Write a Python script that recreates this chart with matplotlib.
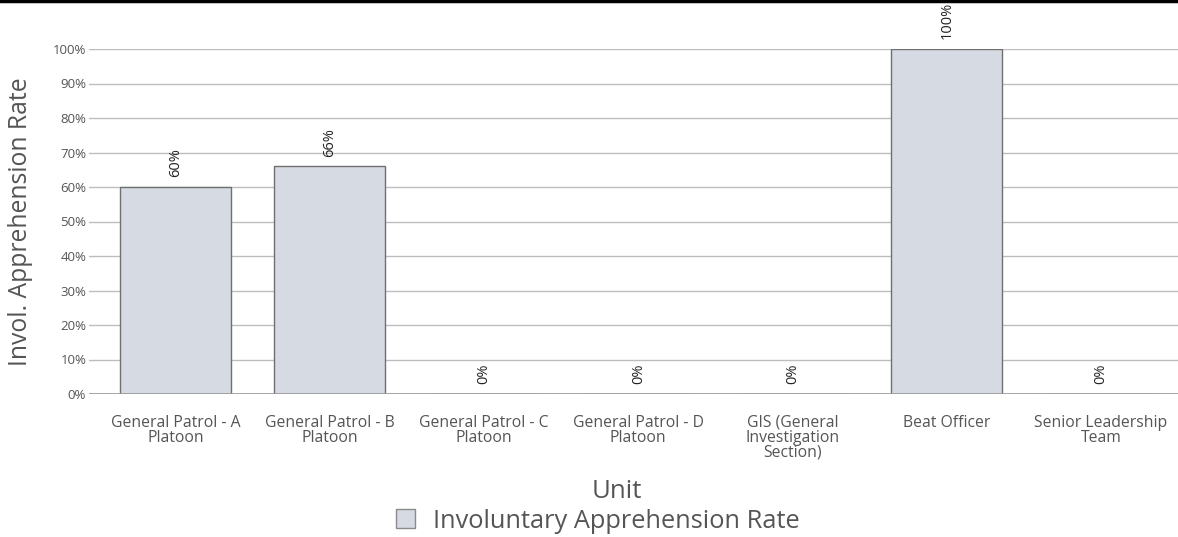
import matplotlib.pyplot as plt
from matplotlib.lines import Line2D
from matplotlib.patches import Patch

plt.rcParams['font.family'] = ['Open Sans', 'DejaVu Sans']

units = ['General Patrol - A\nPlatoon', 'General Patrol - B\nPlatoon',
         'General Patrol - C\nPlatoon', 'General Patrol - D\nPlatoon',
         'GIS (General\nInvestigation\nSection)', 'Beat Officer',
         'Senior Leadership\nTeam']
rates = [60, 66, 0, 0, 0, 100, 0]

bar_color = '#d5dae3'
edge_color = '#6f6f6f'
text_gray = '#555555'

fig = plt.figure(figsize=(11.78, 5.37), dpi=100)
ax = fig.add_axes([89 / 1178, 1 - 394 / 537, 1 - 89 / 1178, (394 - 49) / 537])

x = list(range(len(units)))
ax.bar(x, rates, width=0.72, color=bar_color, edgecolor=edge_color, linewidth=1, zorder=2)

# value labels above each bar
for xi, r in zip(x, rates):
    ax.annotate(f'{r}%', (xi, r), xytext=(0, 7), textcoords='offset points',
                rotation=90, ha='center', va='bottom', fontsize=10.5, color='#222222')

ax.set_xlim(-0.5617, 6.5)
ax.set_ylim(0, 100)
ax.set_yticks(range(0, 101, 10))
ax.set_yticklabels([f'{v}%' for v in range(0, 101, 10)])
ax.set_xticks(x)
ax.set_xticklabels(units, linespacing=0.9)
ax.tick_params(axis='y', length=0, pad=2, labelsize=9.5, labelcolor=text_gray)
ax.tick_params(axis='x', length=0, pad=15, labelsize=11.3, labelcolor=text_gray)
ax.grid(axis='y', color='#bdbdbd', linewidth=1, zorder=0)
ax.axhline(0, color='#9a9a9a', linewidth=1.2, zorder=3)
for s in ax.spines.values():
    s.set_visible(False)

ax.set_ylabel('Invol. Apprehension Rate', fontsize=17.8, color=text_gray, labelpad=14)
fig.text(617 / 1178, 1 - 492 / 537, 'Unit', fontsize=18.5, color=text_gray,
         ha='center', va='center')

handle = Patch(facecolor=bar_color, edgecolor='#8a8a8a', linewidth=1)
fig.legend([handle], ['Involuntary Apprehension Rate'], loc='center',
           bbox_to_anchor=(598 / 1178, 1 - 521 / 537), frameon=False,
           fontsize=18.3, labelcolor=text_gray, handlelength=0.75, handleheight=0.75,
           handletextpad=0.7)

fig.add_artist(Line2D([0, 1], [1 - 1 / 537, 1 - 1 / 537], color='black', linewidth=2.5,
                      transform=fig.transFigure))

fig.savefig('out.png', dpi=100)
